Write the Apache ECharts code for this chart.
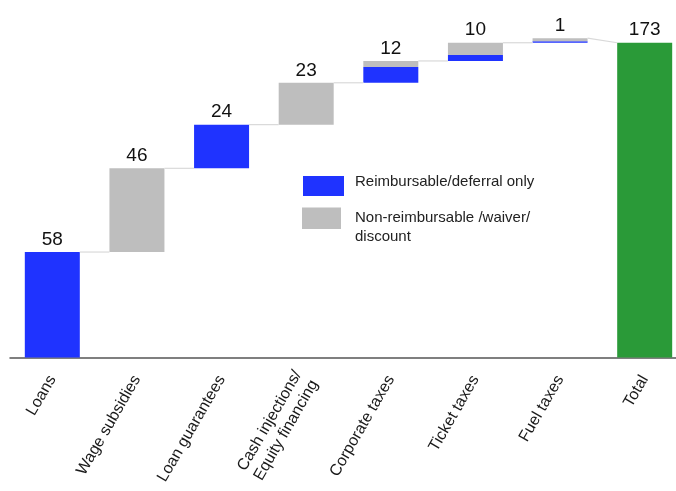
<!DOCTYPE html>
<html>
<head>
<meta charset="utf-8">
<script src="https://cdn.jsdelivr.net/npm/echarts@6/dist/echarts.min.js"></script>
<style>html,body{margin:0;padding:0;background:#fff;overflow:hidden}#c{width:687px;height:491px}</style>
</head>
<body>
<div id="c"></div>
<script>
var categories = ['Loans', 'Wage subsidies', 'Loan guarantees', 'Cash injections/\nEquity financing', 'Corporate taxes', 'Ticket taxes', 'Fuel taxes', 'Total'];
var reimbursable = [58, 0, 24, 0, 8.7, 3.3, 0.8, 0];
var nonReimbursable = [0, 46, 0, 23, 3.3, 6.7, 1.7, 0];
var totalValue = 173;
var valueLabels = ['58', '46', '24', '23', '12', '10', '1', '173'];
var legendNames = ['Reimbursable/deferral only', 'Non-reimbursable /waiver/\ndiscount'];

var BLUE = '#1f33ff', GRAY = '#bebebe', GREEN = '#2a9a38';
var FONT = '"Liberation Sans", Arial, sans-serif';

// bases computed cumulatively from the step values
var base = [], tops = [];
var run = 0;
for (var i = 0; i < categories.length; i++) {
  if (i === categories.length - 1) { base.push(0); tops.push(totalValue); }
  else { base.push(run); run += reimbursable[i] + nonReimbursable[i]; tops.push(run); }
}
var n = categories.length;
var baseData = base.map(function (v, i) { return i === n - 1 ? '-' : v; });
var blueData = reimbursable.map(function (v, i) { return (v && i < n - 1) ? v : '-'; });
var grayData = nonReimbursable.map(function (v, i) { return (v && i < n - 1) ? v : '-'; });
var totalData = categories.map(function (c, i) { return i === n - 1 ? totalValue : '-'; });

var annot = categories.map(function (c, i) {
  var next = i < n - 1 ? (i + 1 === n - 1 ? totalValue : base[i + 1]) : null;
  return [i, tops[i], next === null ? -1 : next, i];
});

var chart = echarts.init(document.getElementById('c'), null, { renderer: 'canvas' });
chart.setOption({
  animation: false,
  textStyle: { fontFamily: FONT },
  grid: { left: 10, right: 0, top: 30, height: 327.6 },
  xAxis: {
    type: 'category', data: categories,
    axisLine: { lineStyle: { color: '#555', width: 1.5 } },
    axisTick: { show: false },
    axisLabel: { rotate: 60, interval: 0, fontSize: 16, color: '#1a1a1a', margin: 19, fontFamily: FONT, lineHeight: 19 }
  },
  yAxis: { type: 'value', min: 0, max: 180, show: false, splitLine: { show: false } },
  series: [
    { type: 'bar', stack: 's', data: baseData, barWidth: 55, itemStyle: { color: 'transparent' }, silent: true },
    { type: 'bar', stack: 's', name: legendNames[0], data: blueData, barWidth: 55, itemStyle: { color: BLUE } },
    { type: 'bar', stack: 's', name: legendNames[1], data: grayData, barWidth: 55, itemStyle: { color: GRAY } },
    { type: 'bar', stack: 's', data: totalData, barWidth: 55, itemStyle: { color: GREEN } },
    {
      type: 'custom', data: annot, z: 10, silent: true,
      renderItem: function (params, api) {
        var idx = api.value(0), top = api.value(1), next = api.value(2);
        var p = api.coord([idx, top]);
        var children = [{
          type: 'text',
          style: { text: valueLabels[api.value(3)], x: p[0], y: p[1] - 3, textAlign: 'center', textVerticalAlign: 'bottom', font: '19px ' + FONT, fill: '#111' }
        }];
        if (next >= 0) {
          var q = api.coord([idx + 1, next]);
          children.push({
            type: 'line',
            shape: { x1: p[0] + 27.5, y1: p[1], x2: q[0] - 27.5, y2: q[1] },
            style: { stroke: '#d9d9d9', lineWidth: 1.2 }
          });
        }
        return { type: 'group', children: children };
      }
    }
  ],
  graphic: [
    { type: 'rect', shape: { x: 303, y: 176, width: 41, height: 20 }, style: { fill: BLUE } },
    { type: 'text', style: { text: legendNames[0], x: 355, y: 181.5, textVerticalAlign: 'middle', font: '15px ' + FONT, fill: '#222' } },
    { type: 'rect', shape: { x: 302, y: 207.5, width: 39, height: 21.5 }, style: { fill: GRAY } },
    { type: 'text', style: { text: legendNames[1], x: 355, y: 208, textVerticalAlign: 'top', font: '15px ' + FONT, fill: '#222', lineHeight: 19.5 } }
  ]
});
</script>
</body>
</html>
